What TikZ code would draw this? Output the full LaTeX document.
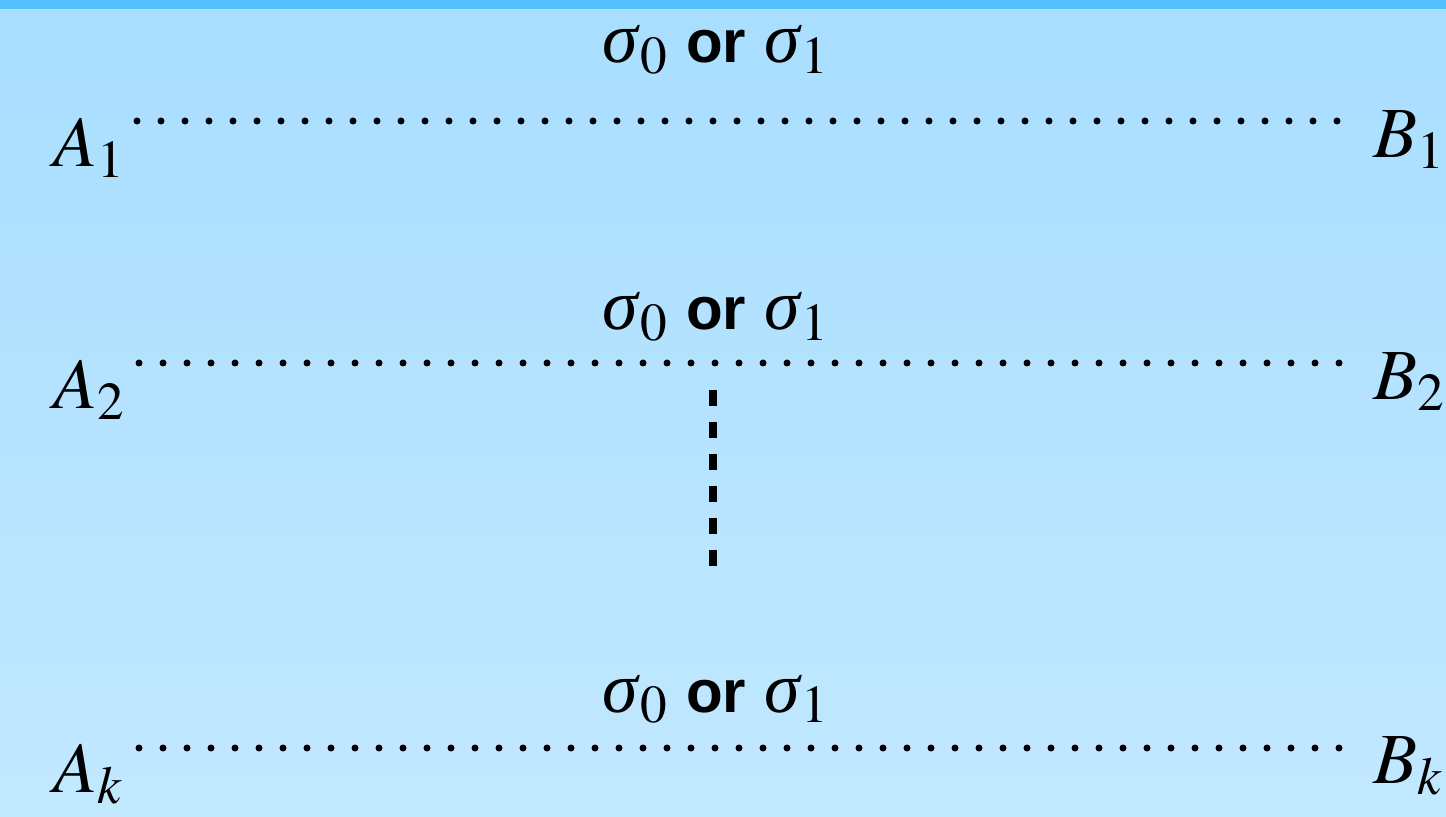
\documentclass[tikz,border=0pt]{standalone}
\usepackage[no-math]{fontspec}
\usepackage{mathptmx}
\setmainfont{Liberation Serif}
\setsansfont{Liberation Sans}
\usetikzlibrary{positioning,calc}
\definecolor{SkyTop}{HTML}{A9DEFF}
\definecolor{SkyBottom}{HTML}{C1E8FF}
\definecolor{Band}{HTML}{56BFFF}
\newcommand{\sig}[1]{\textit{σ}$_{#1}$}
\newcommand{\pick}{\sig{0} {\fontsize{30}{32}\selectfont\sffamily\bfseries or} \sig{1}}

\begin{document}
\begin{tikzpicture}[x=0.5pt, y=-0.5pt, endpt/.style={inner sep=0pt,anchor=base west,font=\fontsize{36}{40}\selectfont}, choice/.style={inner sep=0pt,anchor=base,font=\fontsize{36}{40}\selectfont}, dotrow/.style={line width=3.5pt,line cap=round,dash pattern=on 0pt off 12pt}, skipline/.style={line width=4pt,dash pattern=on 8pt off 8pt}]
\useasboundingbox (0,0) rectangle (1446,817);
\shade[top color=SkyTop,bottom color=SkyBottom] (0,0) rectangle (1446,817);
\fill[Band] (0,0) rectangle (1446,9);
\node[endpt] (A1) at (53,167) {$A_1$};
\node[endpt] (B1) at (1373,158) {$B_1$};
\node[endpt] (A2) at (53,409) {$A_2$};
\node[endpt] (B2) at (1373,400) {$B_2$};
\node[endpt] (Ak) at (53,792) {$A_k$};
\node[endpt] (Bk) at (1373,783) {$B_k$};
\node[choice] (s1) at (716,63) {\pick};
\node[choice] (s2) at (716,330) {\pick};
\node[choice] (sk) at (716,712) {\pick};
\coordinate (a1) at (137,121);
\coordinate (b1) at (1339,121);
\coordinate (a2) at (139,363);
\coordinate (b2) at (1341,363);
\coordinate (ak) at (139,748);
\coordinate (bk) at (1341,748);
\draw[dotrow] (a1) -- (b1);
\draw[dotrow] (a2) -- (b2);
\draw[dotrow] (ak) -- (bk);
\coordinate (v1) at (713,390);
\coordinate (v2) at (713,566);
\draw[skipline] (v1) -- (v2);
\end{tikzpicture}
\end{document}
